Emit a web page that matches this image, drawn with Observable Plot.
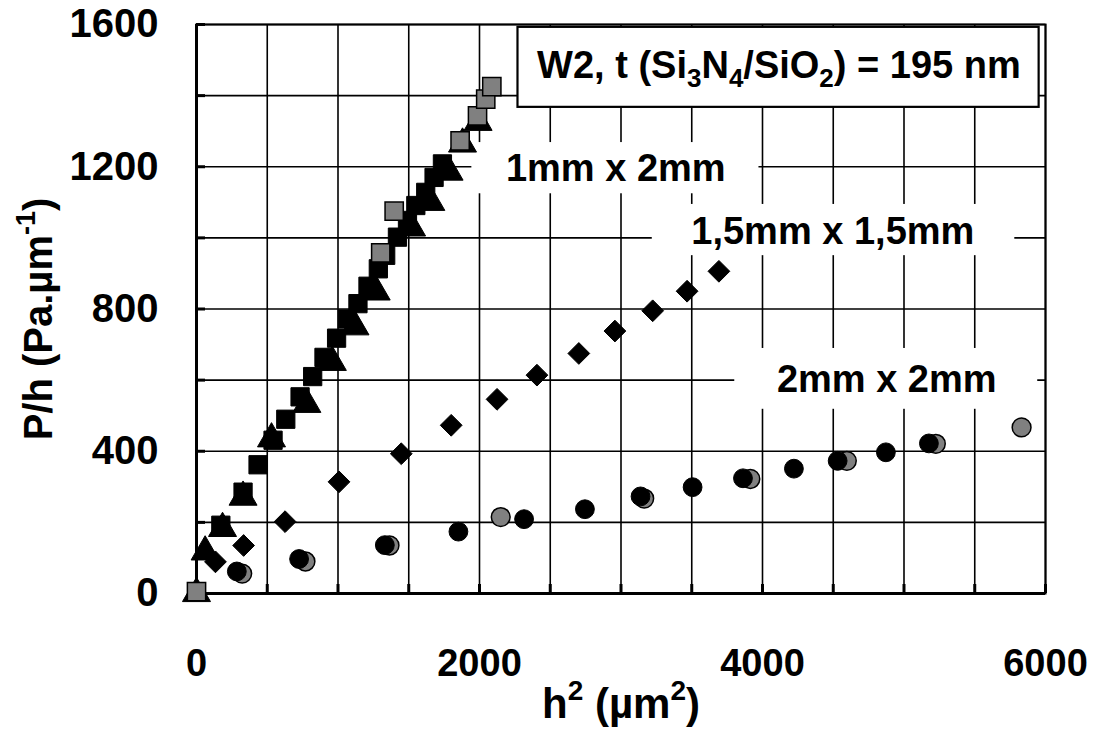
<!DOCTYPE html>
<html><head><meta charset="utf-8">
<script src="https://cdn.jsdelivr.net/npm/d3@7"></script>
<script src="https://cdn.jsdelivr.net/npm/@observablehq/plot@0.6"></script>
<style>body{margin:0;background:#fff}</style>
</head><body><div id="chart"></div>
<script>
// 1mm x 2mm — black squares
const sqBlackX = [172,329,435,541,631,732,821,901,990,1066,1141,1212,1285,1337,1420,1491,1550,1620,1679,1738];
const sqBlackY = [192,285,362,431,490,553,610,664,718,772,815,864,913,951,1002,1049,1091,1128,1170,1208];
// 1mm x 2mm — black triangles
const triX = [0,61,184,329,530,780,960,1120,1270,1520,1656,1785,1880,1990];
const triY = [0,117,183,271,435,532,650,750,848,1028,1100,1185,1264,1325];
// 1mm x 2mm — grey squares
const sqGreyX = [0,1302,1397,1863,1986,2044,2087];
const sqGreyY = [5,958,1075,1273,1343,1390,1425];
// 1,5mm x 1,5mm — diamonds
const diaX = [134,333,626,1007,1447,1800,2124,2406,2702,2957,3224,3467,3692];
const diaY = [89,135,202,314,393,473,546,614,675,738,795,850,906];
// 2mm x 2mm — black circles
const cirBlackX = [285,725,1331,1851,2315,2745,3138,3506,3862,4222,4531,4872,5176];
const cirBlackY = [62,97,136,174,209,237,273,299,324,351,373,397,422];
// 2mm x 2mm — grey circles
const cirGreyX = [323,770,1364,2150,3164,3914,4596,5225,5831];
const cirGreyY = [56,90,135,215,267,322,373,421,467];

const xTickLabels = [0,2000,4000,6000];
const yTickLabels = [0,400,800,1200,1600];
const xGrid = d3.range(0, 6001, 500);
const yGrid = d3.range(0, 1601, 200);

const seriesLabels = ["1mm x 2mm", "1,5mm x 1,5mm", "2mm x 2mm"];
const legendSegs = [["W2, t (Si",0],["3",-1],["N",0],["4",-1],["/SiO",0],["2",-1],[") = 195 nm",0]];
const yTitleSegs = [["P/h (Pa.µm",0],["-1",1],[")",0]];
const xTitleSegs = [["h",0],["2",1],[" (µm",0],["2",1],[")",0]];

const pts = (xs, ys) => xs.map((x, i) => ({x, y: ys[i]}));
const joined = segs => segs.map(s => s[0]).join("");

const FS = 38;
const txt = {fontSize: FS, fontWeight: "bold", fill: "black"};

const chart = Plot.plot({
  width: 1096, height: 744,
  marginLeft: 196, marginRight: 51, marginTop: 24, marginBottom: 151,
  style: {fontFamily: '"Liberation Sans", Arial, sans-serif', background: "white", overflow: "visible"},
  x: {domain: [0, 6000]},
  y: {domain: [0, 1600]},
  marks: [
    Plot.gridX(xGrid, {stroke: "black", strokeOpacity: 1, strokeWidth: 1.6}),
    Plot.gridY(yGrid, {stroke: "black", strokeOpacity: 1, strokeWidth: 1.6}),
    // white backgrounds behind series labels
    Plot.rect([0], {x1: 1946, x2: 3975, y1: 1124, y2: 1268, fill: "white"}),
    Plot.rect([0], {x1: 3221, x2: 5783, y1: 950, y2: 1094, fill: "white"}),
    Plot.rect([0], {x1: 3804, x2: 5945, y1: 518, y2: 689, fill: "white"}),
    Plot.frame({stroke: "black", strokeWidth: 2}),
    Plot.ruleX([0], {stroke: "black", strokeWidth: 3}),
    Plot.ruleY([0], {stroke: "black", strokeWidth: 3}),
    Plot.axisX({ticks: xGrid, tickSize: -9, tickFormat: () => "", strokeWidth: 3, label: null}),
    Plot.axisY({ticks: yGrid, tickSize: -9, tickFormat: () => "", strokeWidth: 3, label: null}),
    Plot.axisX({ticks: xTickLabels, tickSize: 0, tickPadding: 56, fontSize: 38, fontWeight: "bold", label: null, tickFormat: d => String(d)}),
    Plot.axisY({ticks: yTickLabels, tickSize: 0, tickPadding: 38, fontSize: 40, fontWeight: "bold", label: null, tickFormat: d => String(d)}),
    // legend box
    Plot.rect([0], {x1: 2272, x2: 5955, y1: 1367, y2: 1592, fill: "white", stroke: "black", strokeWidth: 2.2}),
    Plot.text([joined(legendSegs)], {x: 4116, y: 1483, ...txt}),
    // series labels
    Plot.text([seriesLabels[0]], {x: 2963, y: 1194, ...txt}),
    Plot.text([seriesLabels[1]], {x: 4497, y: 1017, ...txt}),
    Plot.text([seriesLabels[2]], {x: 4878, y: 600, ...txt}),
    // axis titles
    Plot.text([joined(yTitleSegs)], {frameAnchor: "left", textAnchor: "middle", dx: -157, dy: 10, rotate: -90, ...txt, fontSize: 40}),
    Plot.text([joined(xTitleSegs)], {frameAnchor: "bottom", textAnchor: "middle", dy: 124, ...txt, fontSize: 42}),
    // data
    Plot.dot(pts(diaX, diaY), {x: "x", y: "y", symbol: "diamond2", r: 9.8, fill: "black", stroke: "black", strokeWidth: 1}),
    Plot.dot(pts(cirGreyX, cirGreyY), {x: "x", y: "y", symbol: "circle", r: 9.4, fill: "#808080", stroke: "black", strokeWidth: 1.5}),
    Plot.dot(pts(cirBlackX, cirBlackY), {x: "x", y: "y", symbol: "circle", r: 9.4, fill: "black", stroke: "black", strokeWidth: 1}),
    Plot.dot(pts(triX, triY), {x: "x", y: "y", symbol: "triangle", r: 10.4, fill: "black", stroke: "black", strokeWidth: 1}),
    Plot.dot(pts(sqBlackX, sqBlackY), {x: "x", y: "y", symbol: "square", r: 10.3, fill: "black", stroke: "black", strokeWidth: 1}),
    Plot.dot(pts(sqGreyX, sqGreyY), {x: "x", y: "y", symbol: "square", r: 10.3, fill: "#808080", stroke: "black", strokeWidth: 1.5})
  ]
});

function rich(svg, segs, shiftPx, smallSize) {
  const full = joined(segs);
  d3.select(svg).selectAll("text").filter(function () { return this.textContent === full; }).each(function () {
    const t = d3.select(this);
    t.text(null);
    let prev = 0;
    for (const [s, k] of segs) {
      const off = k === 1 ? -shiftPx : k === -1 ? shiftPx * 0.55 : 0;
      const sp = t.append("tspan").text(s).attr("dy", off - prev);
      if (k) sp.attr("font-size", smallSize);
      prev = off;
    }
  });
}
rich(chart, legendSegs, 16, 26);
rich(chart, yTitleSegs, 17, 27);
rich(chart, xTitleSegs, 18, 28);

document.getElementById("chart").appendChild(chart);
</script>
</body></html>
